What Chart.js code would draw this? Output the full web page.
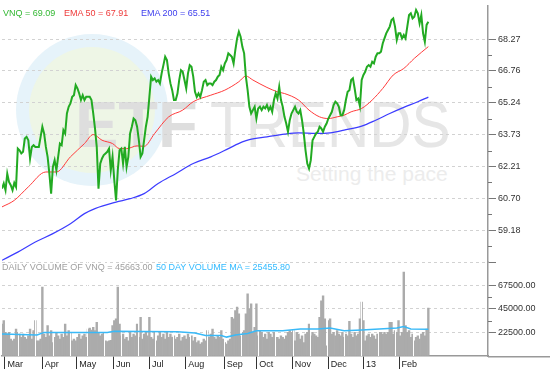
<!DOCTYPE html>
<html>
<head>
<meta charset="utf-8">
<script src="https://cdn.jsdelivr.net/npm/chart.js@4.4.0/dist/chart.umd.min.js"></script>
<style>
  html, body { margin:0; padding:0; background:#fff; }
  #wrap { position:relative; width:550px; height:380px; overflow:hidden; background:#fff; font-family:"Liberation Sans", Arial, sans-serif; }
  canvas { position:absolute; left:0; }
  .wm { position:absolute; white-space:nowrap; line-height:1; }
  .lg { position:absolute; font-size:9px; line-height:11px; white-space:nowrap; }
</style>
</head>
<body>
<div id="wrap">
  <div style="position:absolute;left:16px;top:34px;width:152px;height:152px;border-radius:50%;background:#e6f3fa;"></div>
  <div style="position:absolute;left:29px;top:47px;width:126px;height:126px;border-radius:50%;background:#eef6e6;"></div>
  <div class="wm" style="left:75px;top:91.5px;font-size:65px;font-weight:bold;color:#dedede;">ETF</div>
  <div class="wm" style="left:210px;top:91.5px;font-size:65px;color:#e6e6e6;transform:scaleX(0.9);transform-origin:left top;">TRENDS</div>
  <div class="wm" style="left:296px;top:163px;font-size:21px;color:#ececec;">Setting the pace</div>
  <canvas id="price" width="550" height="264" style="top:0"></canvas>
  <canvas id="vol" width="550" height="122" style="top:258px"></canvas>
  <div class="lg" style="left:3px;top:7.5px;color:#33b833;">VNQ = 69.09</div>
  <div class="lg" style="left:64px;top:7.5px;color:#ee3a3a;">EMA 50 = 67.91</div>
  <div class="lg" style="left:141px;top:7.5px;color:#4040ee;">EMA 200 = 65.51</div>
  <div class="lg" style="left:2px;top:261.5px;color:#a0a0a0;">DAILY VOLUME OF VNQ = 45663.00</div>
  <div class="lg" style="left:156px;top:261.5px;color:#33bbff;">50 DAY VOLUME MA = 25455.80</div>
</div>
<script>
// ---- data (x unit = trading session index) ----
const monthTickPos = [1.7, 23.0, 42.6, 63.5, 84.0, 104.7, 126.7, 145.2, 165.5, 186.0, 206.0, 226.3];
const monthLabels = ['Mar','Apr','May','Jun','Jul','Aug','Sep','Oct','Nov','Dec','13','Feb'];
const priceTicks = [57.67, 59.18, 60.70, 62.21, 63.73, 65.24, 66.76, 68.27];
const priceMinorTicks = [58.43, 59.94, 61.46, 62.97, 64.49, 66.00, 67.52];
const volumeTicks = [0, 22500, 45000, 67500, 90000];
const volumeMinorTicks = [33750, 56250];

const vnqClose = [
61.16, 61.40, 61.08, 61.87, 61.48, 61.32, 61.08, 61.43, 61.24,
63.06, 62.98, 62.83, 62.91, 63.54, 63.62, 63.46, 62.59,
63.14, 63.22, 63.14, 63.14, 63.14, 63.62, 64.10, 63.78,
63.14, 62.67, 61.87, 60.92, 62.19, 62.51, 62.03, 62.67,
63.30, 63.22, 63.94, 63.78, 64.73, 65.05, 65.21, 65.52,
65.60, 66.08, 65.92, 65.68, 65.37, 65.60, 65.37, 65.52,
65.52, 65.52, 65.37, 64.73, 64.02, 63.14, 61.16, 62.35,
62.59, 62.75, 62.83, 62.91, 63.06, 62.03, 62.67, 61.56,
60.60, 62.03, 62.98, 63.06, 62.35, 63.14, 62.19, 62.67,
63.78, 64.10, 64.49, 64.41, 64.10, 63.46, 62.67, 62.83,
63.46, 64.10, 64.57, 65.52, 66.48, 66.32, 66.40, 66.24,
66.32, 66.16, 66.64, 67.03, 67.43, 67.27, 66.64, 66.16,
65.84, 65.37, 65.37, 65.68, 66.32, 66.79, 66.71, 66.32,
65.92, 66.64, 67.03, 66.95, 66.48, 65.76, 65.52, 65.68,
65.52, 65.84, 66.24, 66.32, 66.08, 66.16, 66.16, 66.08,
66.24, 66.32, 66.48, 66.56, 66.95, 66.79, 67.11, 67.27,
67.59, 67.51, 67.43, 67.11, 67.75, 68.30, 68.62, 68.38,
67.90, 67.59, 66.48, 65.84, 65.05, 64.73, 64.89, 65.05,
64.49, 64.97, 65.05, 64.89, 65.05, 64.97, 65.13, 64.89,
65.05, 64.81, 65.37, 65.68, 65.44, 66.00, 65.37, 65.05,
64.57, 64.25, 63.86, 64.41, 64.73, 64.89, 65.05, 64.81,
64.73, 64.89, 64.41, 63.78, 62.98, 62.35, 62.11, 62.51,
63.46, 63.62, 63.78, 63.86, 64.10, 64.02, 63.86, 64.10,
64.25, 64.49, 64.65, 64.81, 65.13, 65.29, 65.21, 65.05,
64.65, 64.65, 64.89, 65.37, 65.76, 65.84, 66.32, 66.40,
65.92, 65.37, 65.44, 65.08, 66.32, 66.56, 66.71, 66.95,
67.03, 66.95, 67.19, 67.11, 67.43, 67.59, 67.59, 67.67,
68.06, 68.30, 68.54, 68.70, 68.86, 69.17, 69.25, 68.86,
68.22, 68.54, 68.54, 68.30, 68.46, 68.30, 68.86, 69.41,
69.49, 69.25, 69.33, 69.65, 69.49, 69.02, 69.41, 68.54,
68.14, 68.94, 69.09
];

const ema50Idx = [0, 7, 15, 25, 31, 39, 47, 52, 57, 63, 67, 71, 77, 81, 87, 95, 103, 109, 119, 127, 135, 139, 143, 151, 157, 161, 169, 175, 181, 186, 191, 195, 199, 205, 211, 217, 223, 229, 235, 243];
const ema50 = [60.29, 60.60, 61.24, 61.95, 61.95, 62.67, 63.30, 63.73, 63.46, 63.30, 63.06, 63.06, 63.19, 63.17, 63.78, 64.57, 64.89, 65.29, 65.60, 65.84, 66.24, 66.51, 66.32, 65.97, 65.76, 65.68, 65.37, 64.89, 64.57, 64.49, 64.57, 64.65, 64.81, 64.97, 65.37, 65.92, 66.56, 66.87, 67.35, 67.91];

const ema200Idx = [0, 9, 19, 29, 39, 47, 53, 65, 73, 81, 89, 99, 109, 119, 129, 137, 141, 151, 161, 169, 179, 187, 195, 205, 213, 221, 229, 237, 243];
const ema200 = [57.75, 58.14, 58.62, 59.02, 59.49, 59.97, 60.21, 60.52, 60.68, 60.92, 61.40, 61.87, 62.35, 62.67, 63.06, 63.38, 63.49, 63.62, 63.75, 63.81, 63.78, 63.81, 63.94, 64.13, 64.41, 64.73, 65.02, 65.29, 65.51];

const volume = [
30500, 33700, 22500, 20900, 22500, 16100, 14500, 16100, 25700, 22500,
20900, 17700, 20900, 17700, 16100, 19300, 25700, 16100, 24100, 33700,
14500, 14500, 16100, 65600, 20900, 17700, 28900, 19300, 24100, 12900,
17700, 22500, 19300, 16100, 20900, 17700, 30500, 19300, 24100, 22500,
14500, 16100, 14500, 17700, 20900, 16100, 19300, 20900, 17700, 25700,
26700, 24800, 27300, 24100, 32100, 22500, 19300, 20900, 22500, 14500,
13800, 14500, 15000, 28900, 33700, 35300, 65600, 30500, 19300, 20900,
16100, 17700, 14500, 22500, 17700, 20900, 19300, 30500, 17700, 36900,
16100, 20900, 22500, 19300, 36900, 17700, 16100, 22500, 14500, 19300,
22500, 17700, 20900, 16100, 22500, 17700, 20900, 17700, 19300, 16100,
17700, 20900, 14500, 17700, 19300, 16100, 20900, 17700, 19300, 14500,
17700, 12900, 14500, 11300, 12900, 16100, 14500, 24100, 17700, 20900,
25700, 17700, 16100, 19300, 17700, 24100, 16100, 12900, 11300, 14500,
16100, 36900, 35300, 43300, 46500, 40100, 19300, 22500, 24100, 40100,
59200, 44900, 49700, 22500, 27300, 49700, 19300, 24100, 22500, 17700,
20900, 16100, 22500, 20900, 17700, 22500, 17700, 17700, 16100, 19300,
17700, 16100, 19300, 22500, 24100, 22500, 24100, 14500, 22500, 20900,
16100, 19300, 12900, 20900, 22500, 30500, 19300, 22500, 20900, 19300,
17700, 36900, 52500, 57300, 35300, 9700, 33700, 35300, 20900, 22500,
19300, 24100, 20900, 19300, 22500, 17700, 20900, 19300, 33000, 20900,
17700, 22500, 19300, 20900, 35300, 51300, 33700, 14500, 19300, 20900,
17700, 20900, 19300, 16100, 20900, 22500, 22500, 20900, 22500, 20900,
22500, 32100, 32100, 20900, 24100, 22500, 33700, 19300, 22500, 80000,
28900, 22500, 24100, 17700, 20900, 14500, 17700, 19300, 16100, 20900,
22500, 19300, 25700, 45663
];

const volMaIdx = [0, 20, 24, 60, 64, 80, 100, 110, 116, 125, 128, 133, 140, 145, 155, 160, 170, 180, 187, 195, 205, 215, 225, 229, 233, 243];
const volMa = [20900, 20000, 22500, 22500, 23500, 23300, 23000, 22000, 19500, 19500, 18000, 20000, 21500, 24000, 24000, 24100, 25700, 25700, 26700, 24100, 24800, 25700, 26700, 28000, 25700, 25456];

// ---- helpers / plugins ----
Chart.defaults.font.family = '"Liberation Sans", Arial, sans-serif';
Chart.defaults.font.size = 9;

const minorTicks = {
  id: 'minorTicks',
  afterDraw(chart, args, opts) {
    const s = chart.scales.y, ctx = chart.ctx;
    ctx.save();
    ctx.strokeStyle = opts.color; ctx.lineWidth = 1;
    opts.values.forEach(v => {
      const y = Math.round(s.getPixelForValue(v)) + 0.5;
      ctx.beginPath(); ctx.moveTo(s.left, y); ctx.lineTo(s.left + opts.length, y); ctx.stroke();
    });
    ctx.restore();
  }
};

const volDecor = {
  id: 'volDecor',
  afterDatasetDraw(chart, args, opts) {
    if (args.index !== 0) return;
    const a = chart.chartArea, x = chart.scales.x, ctx = chart.ctx;
    ctx.save();
    ctx.strokeStyle = '#ffffff'; ctx.lineWidth = 1;
    for (let s = opts.start; s <= opts.end; s += opts.step) {
      const px = Math.round(x.getPixelForValue(s)) + 0.5;
      ctx.beginPath(); ctx.moveTo(px, a.top); ctx.lineTo(px, a.bottom); ctx.stroke();
    }
    ctx.restore();
  },
  afterDraw(chart) {
    const a = chart.chartArea, ctx = chart.ctx;
    ctx.save();
    ctx.strokeStyle = '#999'; ctx.lineWidth = 1.5;
    ctx.beginPath(); ctx.moveTo(a.right, a.bottom + 0.75); ctx.lineTo(chart.width, a.bottom + 0.75); ctx.stroke();
    ctx.restore();
  }
};

const pts = (xs, ys) => xs.map((x, i) => ({ x, y: ys[i] }));
const seq = ys => ys.map((y, i) => ({ x: i, y }));

// ---- price chart ----
new Chart(document.getElementById('price'), {
  type: 'line',
  data: {
    datasets: [
      { data: seq(vnqClose), borderColor: '#22aa22', borderWidth: 2, pointRadius: 0, order: 1, tension: 0 },
      { data: pts(ema50Idx, ema50), borderColor: '#ff3b3b', borderWidth: 1, pointRadius: 0, order: 2, cubicInterpolationMode: 'monotone' },
      { data: pts(ema200Idx, ema200), borderColor: '#3c3cff', borderWidth: 1.2, pointRadius: 0, order: 3, cubicInterpolationMode: 'monotone' }
    ]
  },
  options: {
    responsive: false, animation: false, devicePixelRatio: 1,
    layout: { padding: { top: 6, left: 2, bottom: 2, right: 0 } },
    plugins: { legend: { display: false }, tooltip: { enabled: false },
      minorTicks: { values: priceMinorTicks, length: 4, color: '#777' } },
    scales: {
      x: { type: 'linear', min: 0, max: 277, display: false },
      y: {
        position: 'right', min: 57.67, max: 69.84,
        afterBuildTicks: s => { s.ticks = priceTicks.map(v => ({ value: v })); },
        afterFit: s => { s.width = 62; s.paddingTop = 0; s.paddingBottom = 0; },
        ticks: { callback: v => v === priceTicks[0] ? '' : v.toFixed(2), color: '#333', padding: 2, font: { size: 9 } },
        grid: { color: '#d2d2d2', lineWidth: 1, tickLength: 8, tickColor: '#777', tickBorderDash: [] },
        border: { color: '#999', width: 1.5, dash: [3, 3] }
      }
    }
  },
  plugins: [minorTicks]
});

// ---- volume chart ----
new Chart(document.getElementById('vol'), {
  type: 'bar',
  data: {
    datasets: [
      { type: 'bar', data: seq(volume), backgroundColor: '#ababab', borderWidth: 0, barPercentage: 1, categoryPercentage: 1, order: 2 },
      { type: 'line', data: pts(volMaIdx, volMa), borderColor: '#39b9f7', borderWidth: 1.5, pointRadius: 0, order: 1 }
    ]
  },
  options: {
    responsive: false, animation: false, devicePixelRatio: 1,
    layout: { padding: { top: 3.5, left: 2, bottom: 0, right: 0 } },
    plugins: { legend: { display: false }, tooltip: { enabled: false },
      minorTicks: { values: volumeMinorTicks, length: 4, color: '#777' },
      volDecor: { start: 9.3, step: 9.77, end: 243 } },
    scales: {
      x: {
        type: 'linear', min: 0, max: 277, offset: false,
        afterBuildTicks: s => { s.ticks = monthTickPos.map(v => ({ value: v })); },
        afterFit: s => { s.height = 24; s.paddingLeft = 0; s.paddingRight = 0; },
        ticks: { callback: (v, i) => monthLabels[i], align: 'start', labelOffset: 2.5, padding: -10,
                 autoSkip: false, maxRotation: 0, color: '#222', font: { size: 9 } },
        grid: { offset: false, drawOnChartArea: false, drawTicks: true, tickLength: 13, tickColor: '#333', tickWidth: 1 },
        border: { color: '#999', width: 1.5 }
      },
      y: {
        position: 'right', min: 0, max: 90000,
        afterBuildTicks: s => { s.ticks = volumeTicks.map(v => ({ value: v })); },
        afterFit: s => { s.width = 62; s.paddingTop = 0; s.paddingBottom = 0; },
        ticks: { callback: v => (v === volumeTicks[0] || v === volumeTicks[volumeTicks.length - 1]) ? '' : v.toFixed(2),
                 color: '#333', padding: 2, font: { size: 9 } },
        grid: {
          color: c => (c.tick && (c.tick.value === 0 || c.tick.value === 90000)) ? 'rgba(0,0,0,0)' : '#d2d2d2',
          tickColor: c => (c.tick && (c.tick.value === 0 || c.tick.value === 90000)) ? 'rgba(0,0,0,0)' : '#777',
          lineWidth: 1, tickLength: 8, tickBorderDash: []
        },
        border: { color: '#999', width: 1.5, dash: [3, 3] }
      }
    }
  },
  plugins: [minorTicks, volDecor]
});
</script>
</body>
</html>
